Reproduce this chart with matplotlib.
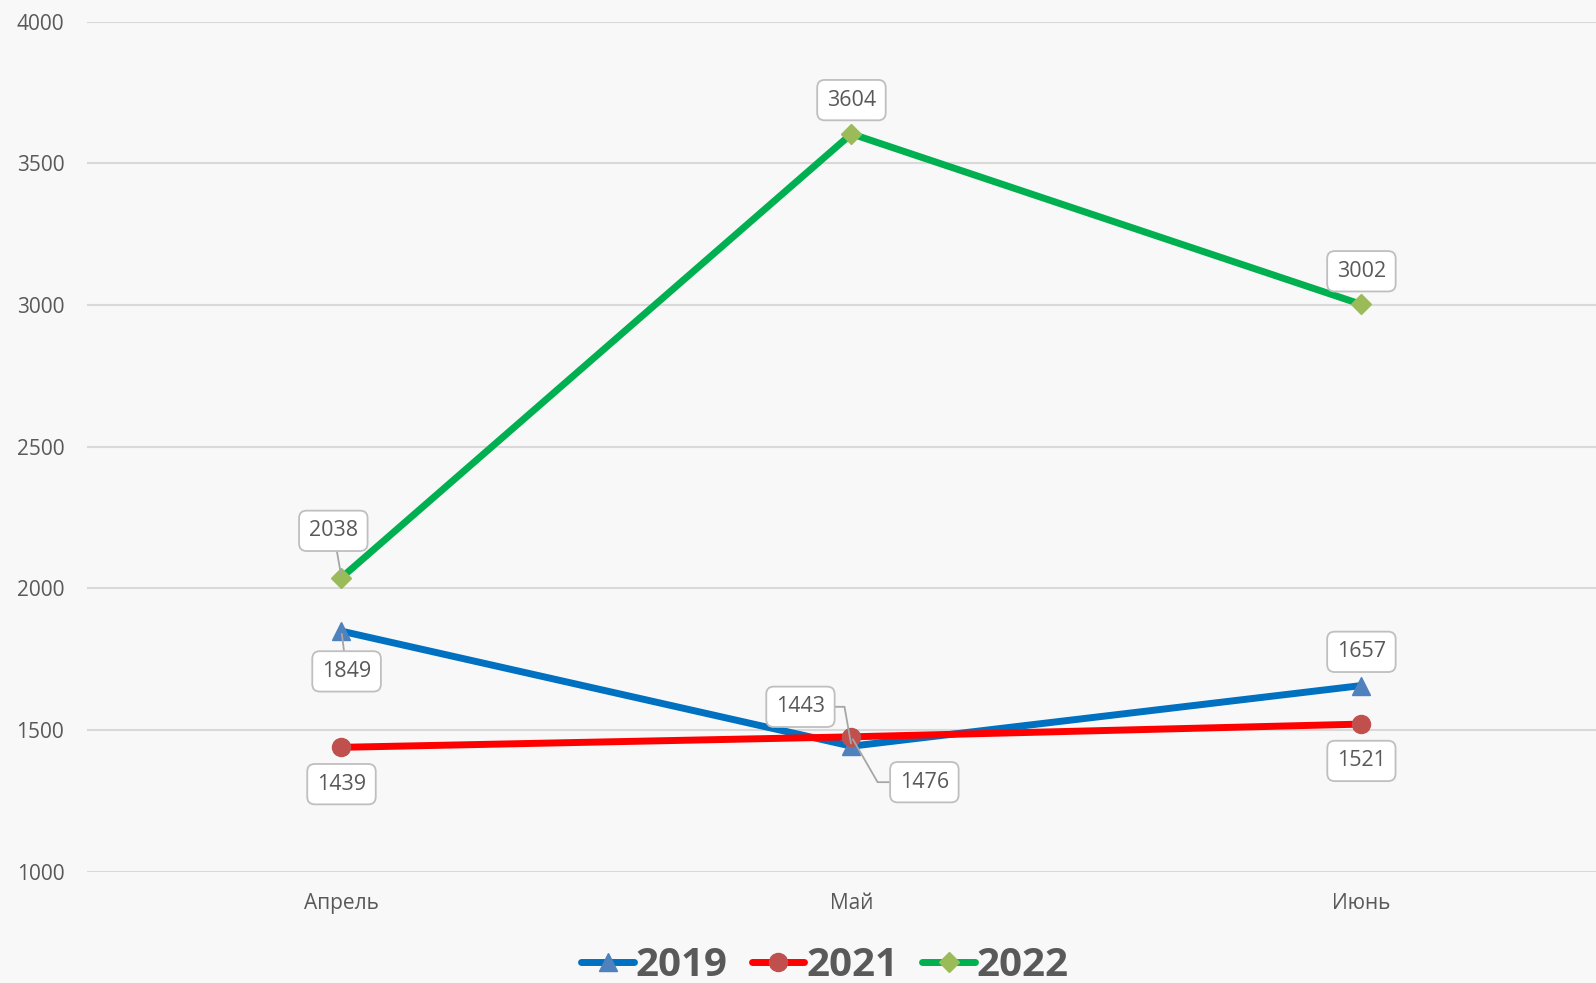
import matplotlib
matplotlib.use("Agg")
import matplotlib.pyplot as plt

months = ["Апрель", "Май", "Июнь"]
years = ["2019", "2021", "2022"]
vals_2019 = [1849, 1443, 1657]
vals_2021 = [1439, 1476, 1521]
vals_2022 = [2038, 3604, 3002]
yticks = [1000, 1500, 2000, 2500, 3000, 3500, 4000]

line_colors = ["#0070C0", "#FF0000", "#00B050"]
marker_colors = ["#4F81BD", "#C0504D", "#9BBB59"]
markers = ["^", "o", "D"]
marker_sizes = [13, 13, 10]

# label box centres (x in category units, y in data units) and leader line style
label_pos = {
    "2019": [(0.01, 1707), (0.90, 1582), (2.0, 1776)],
    "2021": [(0.0, 1309), (1.143, 1316), (2.0, 1391)],
    "2022": [(-0.016, 2203), (1.0, 3723), (2.0, 3119)],
}
leaders = {
    ("2019", 0): "arc3",
    ("2019", 1): "angle,angleA=0,angleB=100,rad=0",
    ("2021", 1): "angle,angleA=0,angleB=-60,rad=0",
    ("2022", 0): "arc3",
}

plt.rcParams["font.family"] = ["Open Sans", "DejaVu Sans"]
text_color = "#595959"
bg = "#F8F8F8"

fig = plt.figure(figsize=(15.96, 9.83), dpi=100, facecolor=bg)
ax = fig.add_axes([0.0542, 0.1132, 0.9458, 0.8648], facecolor=bg)

x = list(range(len(months)))
series = [vals_2019, vals_2021, vals_2022]
for i, (yr, vals) in enumerate(zip(years, series)):
    ax.plot(x, vals, color=line_colors[i], lw=5, solid_capstyle="round",
            marker=markers[i], markersize=marker_sizes[i],
            markerfacecolor=marker_colors[i], markeredgecolor=marker_colors[i],
            label=yr, zorder=3 + i)

for i, (yr, vals) in enumerate(zip(years, series)):
    for j, v in enumerate(vals):
        lx, ly = label_pos[yr][j]
        style = leaders.get((yr, j))
        arrow = None
        if style:
            arrow = dict(arrowstyle="-", color="#A6A6A6", lw=1.3,
                         connectionstyle=style, shrinkA=0, shrinkB=2)
        ax.annotate(str(v), xy=(j, v), xytext=(lx, ly), textcoords="data",
                    ha="center", va="center", fontsize=15.5, color=text_color,
                    bbox=dict(boxstyle="round,pad=0.45,rounding_size=0.35",
                              fc="white", ec="#BFBFBF", lw=1.3),
                    arrowprops=arrow, zorder=10)

ax.set_xlim(-0.5, 2.46)
ax.set_ylim(1000, 4000)
ax.set_xticks(x)
ax.set_xticklabels(months)
ax.set_yticks(yticks)
ax.grid(axis="y", color="#D9D9D9", lw=1.5, zorder=0)
ax.set_axisbelow(True)
for s in ax.spines.values():
    s.set_visible(False)
ax.tick_params(axis="both", length=0, labelsize=15, labelcolor=text_color)
ax.tick_params(axis="x", pad=15)
ax.tick_params(axis="y", pad=16)

leg = fig.legend(loc="center", bbox_to_anchor=(0.517, 0.018), ncol=3,
                 frameon=False, handlelength=1.3, handletextpad=0.05,
                 columnspacing=0.6, prop=dict(size=29, weight="bold"))
for t in leg.get_texts():
    t.set_color(text_color)

fig.savefig("out.png", dpi=100, facecolor=bg)
